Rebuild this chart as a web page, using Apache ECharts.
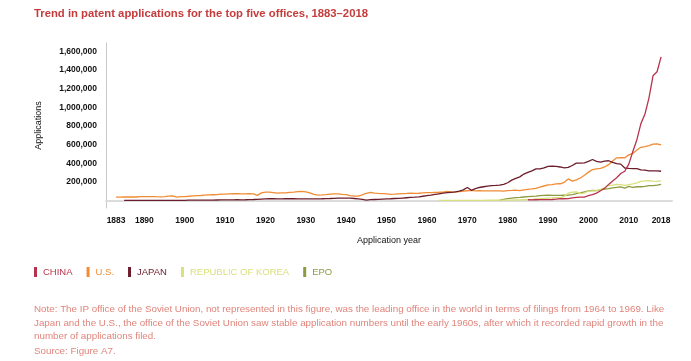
<!DOCTYPE html>
<html>
<head>
<meta charset="utf-8">
<script src="https://cdn.jsdelivr.net/npm/echarts@6/dist/echarts.min.js"></script>
<style>
html,body{margin:0;padding:0;background:#fff;}
#c{width:691px;height:361px;}
</style>
</head>
<body>
<div id="c"></div>
<script>
// ---- data (applications per year) ----
const seriesNames = ['CHINA', 'U.S.', 'JAPAN', 'REPUBLIC OF KOREA', 'EPO'];
const xTickLabels = [1883, 1890, 1900, 1910, 1920, 1930, 1940, 1950, 1960, 1970, 1980, 1990, 2000, 2010, 2018];
const yTickLabels = [200000, 400000, 600000, 800000, 1000000, 1200000, 1400000, 1600000];

const usStart = 1883;
const usValues = [
  37000, 37000, 38000, 38000, 38000, 38000, 42000,                       // 1883-1889
  43000, 42000, 43000, 41000, 40000, 43000, 47000, 51000, 36000, 41000,  // 1890s
  42000, 46000, 51000, 53000, 54000, 58000, 60000, 62000, 63000, 68000,  // 1900s
  68000, 72000, 74000, 73000, 72000, 71000, 73000, 71000, 56000, 82000,  // 1910s
  91000, 90000, 85000, 79000, 82000, 83000, 87000, 90000, 95000, 98000,  // 1920s
  94000, 82000, 66000, 58000, 60000, 63000, 69000, 72000, 71000, 66000,  // 1930s
  63000, 53000, 47000, 48000, 60000, 78000, 87000, 80000, 76000, 74000,  // 1940s
  72000, 67000, 68000, 72000, 75000, 77000, 80000, 77000, 78000, 82000,  // 1950s
  84000, 86000, 88000, 89000, 91000, 97000, 93000, 91000, 95000, 101000, // 1960s
  105000, 108000, 104000, 106000, 104000, 103000, 104000, 103000, 103000, 102000, // 1970s
  106000, 108000, 111000, 106000, 114000, 120000, 125000, 131000, 144000, 156000, // 1980s
  168000, 170000, 178000, 180000, 195000, 232000, 208000, 222000, 242000, 272000, // 1990s
  305000, 332000, 340000, 346000, 360000, 385000, 425000, 458000, 460000, 459000, // 2000s
  490000, 505000, 542000, 571000, 579000, 590000, 606000, 607000, 597000          // 2010-2018
];

const japanStart = 1885;
const japanValues = [
  1400, 1200, 1300, 1500, 1800,                                          // 1885-1889
  1500, 1400, 1300, 1200, 1300, 1500, 1700, 2000, 2200, 2500,            // 1890s
  2800, 3500, 4000, 4200, 4000, 4300, 5000, 5500, 6000, 6500,            // 1900s
  7000, 7500, 8000, 8500, 8000, 8500, 9500, 11000, 13000, 15000,         // 1910s
  17000, 19000, 19000, 17000, 18000, 19000, 19000, 19000, 18000, 18000,  // 1920s
  18000, 17000, 17000, 18000, 19000, 21000, 22000, 24000, 26000, 27000,  // 1930s
  27000, 26000, 22000, 18000, 12000, 5000, 9000, 11000, 13000, 15000,    // 1940s
  17000, 19000, 22000, 24000, 27000, 30000, 33000, 36000, 40000, 46000,  // 1950s
  52000, 58000, 65000, 72000, 79000, 84000, 88000, 92000, 100000, 115000, // 1960s
  140000, 110000, 127000, 140000, 148000, 155000, 160000, 162000, 165000, 174000, // 1970s
  191000, 219000, 237000, 254000, 284000, 302000, 319000, 339000, 339000, 351000, // 1980s
  367000, 369000, 366000, 360000, 350000, 355000, 376000, 401000, 401000, 405000, // 1990s
  420000, 440000, 421000, 413000, 423000, 427000, 409000, 396000, 391000, 349000, // 2000s
  345000, 343000, 343000, 329000, 326000, 319000, 318000, 318000, 314000          // 2010-2018
];

const chinaStart = 1985;
const chinaValues = [
  8600, 8000, 8700, 9000, 9500,                                          // 1985-1989
  10000, 11400, 14400, 19600, 19000, 21600, 28500, 33700, 36000, 36700,  // 1990s
  51700, 63200, 80200, 105300, 130100, 173300, 210500, 245200, 289800, 314600, // 2000s
  391200, 526400, 652800, 825100, 928200, 1101900, 1338500, 1381600, 1542000    // 2010-2018
];

const koreaStart = 1963;
const koreaValues = [
  1800, 1800, 2000, 2100, 2100, 2000, 1900,                              // 1963-1969
  1900, 2000, 2000, 2400, 2800, 2900, 2900, 3100, 4000, 4700,            // 1970s
  5100, 5300, 5900, 6500, 8600, 10600, 12800, 17100, 20000, 23300,       // 1980s
  25800, 28100, 31100, 28800, 45700, 78500, 90300, 92700, 75200, 80600,  // 1990s
  102000, 104600, 106100, 118700, 140100, 160900, 166200, 172500, 170600, 163500, // 2000s
  170100, 178900, 188900, 204600, 210300, 213700, 208800, 204800, 209900          // 2010-2018
];

const epoStart = 1978;
const epoValues = [
  4000, 13000,                                                           // 1978-1979
  20000, 26000, 31000, 34000, 38000, 41000, 44000, 47000, 52000, 55000,  // 1980s
  58000, 56000, 55000, 55000, 57000, 59000, 64000, 73000, 82000, 92000,  // 1990s
  103000, 110000, 106000, 116000, 123000, 128000, 136000, 141000, 146000, 134000, // 2000s
  151000, 142000, 148000, 148000, 152000, 160000, 159000, 166000, 174000          // 2010-2018
];

const colors = {
  'CHINA': '#b7344c',
  'U.S.': '#f08c34',
  'JAPAN': '#6b1d2c',
  'REPUBLIC OF KOREA': '#d9e07c',
  'EPO': '#8c9a40'
};

function pairs(start, vals) { return vals.map((v, i) => [start + i, v]); }

const seriesData = {
  'CHINA': pairs(chinaStart, chinaValues),
  'U.S.': pairs(usStart, usValues),
  'JAPAN': pairs(japanStart, japanValues),
  'REPUBLIC OF KOREA': pairs(koreaStart, koreaValues),
  'EPO': pairs(epoStart, epoValues)
};

const font = 'Arial, "Liberation Sans", Helvetica, sans-serif';
const chart = echarts.init(document.getElementById('c'), null, {renderer: 'canvas'});

// draw order: lower series first, China on top
const drawOrder = ['EPO', 'REPUBLIC OF KOREA', 'U.S.', 'JAPAN', 'CHINA'];
const noteFont = '9.8px ' + font;
const noteColor = '#e0857c';

const option = {
  animation: false,
  backgroundColor: '#fff',
  title: {
    text: 'Trend in patent applications for the top five offices, 1883\u20132018',
    left: 29, top: 3,
    textStyle: {color: '#c43c3c', fontSize: 11.3, fontWeight: 'bold', fontFamily: font}
  },
  legend: {
    left: 29, top: 262,
    itemWidth: 3, itemHeight: 10, itemGap: 14,
    icon: 'rect',
    data: seriesNames.map(n => ({name: n, textStyle: {color: colors[n]}})),
    textStyle: {fontSize: 9.5, fontFamily: font, padding: [0, 0, 0, 1]}
  },
  grid: {left: 106, right: 19, top: 43, bottom: 153, containLabel: false},
  xAxis: {
    type: 'value',
    min: 1880.5, max: 2020.7,
    name: 'Application year',
    nameLocation: 'middle', nameGap: 28,
    nameTextStyle: {color: '#111', fontSize: 9, fontFamily: font},
    axisLine: {show: true, lineStyle: {color: '#dcdcdc', width: 2}},
    axisTick: {show: false},
    splitLine: {show: false},
    axisLabel: {
      customValues: xTickLabels,
      formatter: v => String(v),
      color: '#111', fontSize: 8.5, fontWeight: 'bold', fontFamily: font, margin: 8
    }
  },
  yAxis: {
    type: 'value',
    min: -80000, max: 1690000,
    name: 'Applications',
    nameLocation: 'middle', nameGap: 63, nameRotate: 90,
    nameTextStyle: {color: '#111', fontSize: 9, fontFamily: font},
    axisLine: {show: true, lineStyle: {color: '#c8c8c8', width: 1}},
    axisTick: {show: false},
    splitLine: {show: false},
    axisLabel: {
      customValues: yTickLabels,
      formatter: v => v.toLocaleString('en-US'),
      color: '#111', fontSize: 8.5, fontWeight: 'bold', fontFamily: font, margin: 9
    }
  },
  series: drawOrder.map(n => ({
    name: n,
    type: 'line',
    data: seriesData[n],
    showSymbol: false,
    symbol: 'none',
    smooth: false,
    color: colors[n],
    lineStyle: {color: colors[n], width: 1.3}
  })),
  graphic: [
    {type: 'text', left: 34, top: 304.5, style: {text: 'Note: The IP office of the Soviet Union, not represented in this figure, was the leading office in the world in terms of filings from 1964 to 1969. Like', fill: noteColor, font: noteFont}},
    {type: 'text', left: 34, top: 318, style: {text: 'Japan and the U.S., the office of the Soviet Union saw stable application numbers until the early 1960s, after which it recorded rapid growth in the', fill: noteColor, font: noteFont}},
    {type: 'text', left: 34, top: 331.5, style: {text: 'number of applications filed.', fill: noteColor, font: noteFont}},
    {type: 'text', left: 34, top: 346.5, style: {text: 'Source: Figure A7.', fill: noteColor, font: noteFont}}
  ]
};
chart.setOption(option);
</script>
</body>
</html>
